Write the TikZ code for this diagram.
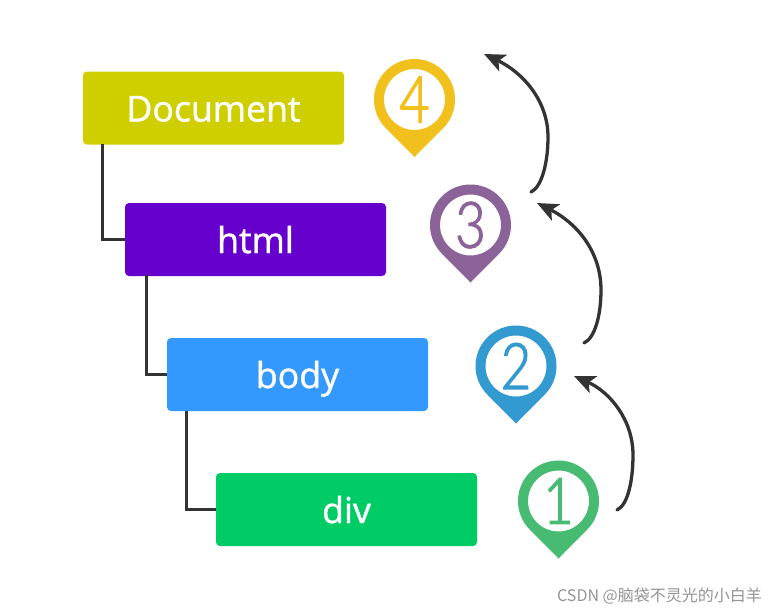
\documentclass[tikz,border=0pt]{standalone}
\usepackage{fontspec}
\setmainfont{Open Sans}
\newfontfamily\boxfont[FakeBold=1.2]{Open Sans}
\newfontfamily\digitfont[FakeBold=2,FakeStretch=0.82]{Lato Light}
\newfontfamily\cjkfont{Noto Sans CJK SC}
\usetikzlibrary{arrows.meta}
\definecolor{docc}{HTML}{CFCF00}
\definecolor{htmlc}{HTML}{6600CC}
\definecolor{bodyc}{HTML}{3399FF}
\definecolor{divc}{HTML}{00CC66}
\definecolor{pinA}{HTML}{48BB73}
\definecolor{pinB}{HTML}{3399D1}
\definecolor{pinC}{HTML}{8C6399}
\definecolor{pinD}{HTML}{F1C01C}
\definecolor{linec}{HTML}{333333}
\tikzset{
  x=1pt,y=-1pt,
  levelbox/.style={rectangle,rounded corners=4pt,minimum width=261pt,minimum height=73pt,inner sep=0pt,text height=27pt,text depth=0pt,text=white,font=\boxfont\fontsize{35.7}{38}\selectfont},
  treeline/.style={draw=linec,line width=3pt},
  curvearrow/.style={draw=linec,line width=3.3pt,line cap=round,-{Stealth[length=21pt,width=18pt,inset=5pt]}},
  pindigit/.style={font=\digitfont\fontsize{64}{70}\selectfont,inner sep=0pt},
}
\newcommand{\pinshape}[3]{% x, y, colour
  \fill[#3,even odd rule] (#1+28.64,#2+28.64) arc[start angle=-45,end angle=225,radius=40.5pt] -- (#1,#2+57.5) -- cycle
    (#1,#2) circle[radius=30.5pt];
}
\begin{document}
\begin{tikzpicture}
\useasboundingbox (0,0) rectangle (776,614);
\fill[white] (0,0) rectangle (776,614);
\node[levelbox,fill=docc] (doc) at (213.5,108) {Document};
\node[levelbox,fill=htmlc] (html) at (255.5,239.5) {html};
\node[levelbox,fill=bodyc] (body) at (297.5,374.5) {body};
\node[levelbox,fill=divc] (div) at (346.5,509.5) {div};
\coordinate (tA) at (102,144);
\coordinate (tB) at (146,275);
\coordinate (tC) at (186,411);
\draw[treeline] (tA) |- (html.west);
\draw[treeline] (tB) |- (body.west);
\draw[treeline] (tC) |- (div.west);
\pinshape{414.5}{99.5}{pinD}
\pinshape{470.5}{225}{pinC}
\pinshape{516}{366}{pinB}
\pinshape{558.5}{501}{pinA}
\node[pindigit,text=pinD] (n4) at (414.5,99.5) {4};
\node[pindigit,text=pinC] (n3) at (470.5,225) {3};
\node[pindigit,text=pinB] (n2) at (516,366) {2};
\node[pindigit,text=pinA] (n1) at (558.5,501) {1};
\coordinate (a1s) at (617,510);
\coordinate (a1e) at (574,376);
\coordinate (a2s) at (584,343);
\coordinate (a2e) at (537,203);
\coordinate (a3s) at (531,192);
\coordinate (a3e) at (484,54);
\draw[curvearrow] (a1s) .. controls (628,505) and (633,480) .. (633,455) .. controls (633,420) and (610,392) .. (a1e);
\draw[curvearrow] (a2s) .. controls (595,338) and (601,315) .. (601,290) .. controls (601,250) and (575,222) .. (a2e);
\draw[curvearrow] (a3s) .. controls (542,187) and (548,162) .. (548,137) .. controls (548,100) and (522,72) .. (a3e);
\node[anchor=east,inner sep=0pt,text=black!42,font=\cjkfont\fontsize{16}{18}\selectfont] (mark) at (762,596) {CSDN @脑袋不灵光的小白羊};
\end{tikzpicture}
\end{document}
